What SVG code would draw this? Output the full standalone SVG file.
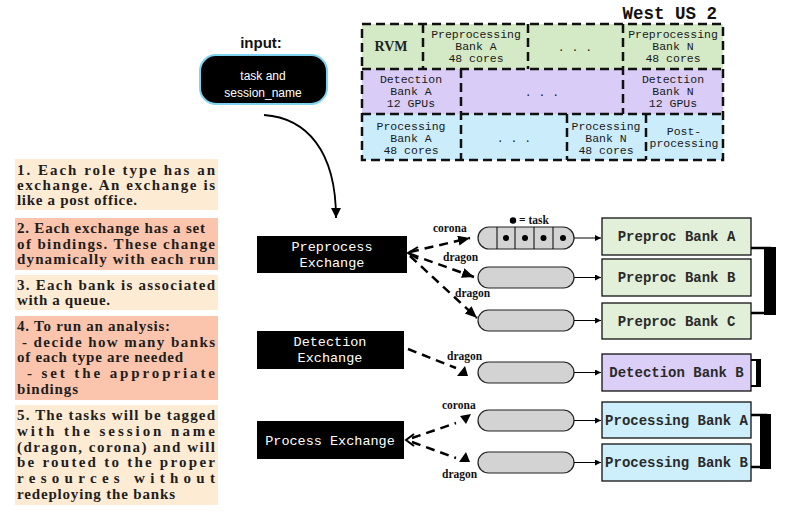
<svg xmlns="http://www.w3.org/2000/svg" width="800" height="515" viewBox="0 0 800 515">
<defs>
<style>
.mono{font-family:"Liberation Mono","Courier New",monospace}
.grid{font-family:"Liberation Mono","Courier New",monospace;font-size:11.5px;fill:#1a1a1a;text-anchor:middle}
.note{font-family:"Liberation Serif","Times New Roman",serif;font-weight:bold;font-size:15px;fill:#1e1e1e}
.lbl{font-family:"Liberation Serif","Times New Roman",serif;font-weight:bold;font-size:11.5px;fill:#111}
.exch{fill:#000}
.exT{font-family:"Liberation Mono","Courier New",monospace;font-size:13.5px;fill:#fff;text-anchor:middle}
.bankT{font-family:"Liberation Mono","Courier New",monospace;font-size:14px;font-weight:bold;fill:#2a2a2a;text-anchor:middle}
.q{fill:#d3d3d3;stroke:#222;stroke-width:1.2}
.dash{fill:none;stroke:#000;stroke-width:2.5;stroke-dasharray:9,6}
.gd{fill:none;stroke:#111;stroke-width:2.5;stroke-dasharray:9,5}
.thin{fill:none;stroke:#000;stroke-width:1}
.peach{fill:#fdebd4}
.salmon{fill:#fbc4ac}
</style>
<marker id="big" markerUnits="userSpaceOnUse" markerWidth="13" markerHeight="11" refX="12" refY="5" orient="auto"><path d="M0,0 L12,5 L0,10 z" fill="#000"/></marker>
<marker id="sm" markerUnits="userSpaceOnUse" markerWidth="7" markerHeight="6" refX="6" refY="3" orient="auto"><path d="M0,0 L6,3 L0,6 z" fill="#000"/></marker>
<marker id="cv" markerUnits="userSpaceOnUse" markerWidth="11" markerHeight="11" refX="10" refY="5" orient="auto"><path d="M0,0 L10,5 L0,10 z" fill="#000"/></marker>
</defs>

<g id="region-grid">
<rect x="362" y="24" width="361" height="45" fill="#d4e9c5"/>
<rect x="362" y="69" width="361" height="45" fill="#d9cdf7"/>
<rect x="362" y="114" width="361" height="46" fill="#cbedfb"/>
<rect class="gd" x="362" y="24" width="361" height="136"/>
<line class="gd" x1="362" y1="69" x2="723" y2="69"/>
<line class="gd" x1="362" y1="114" x2="723" y2="114"/>
<line class="gd" x1="423" y1="24" x2="423" y2="69"/>
<line class="gd" x1="528" y1="24" x2="528" y2="69"/>
<line class="gd" x1="623" y1="24" x2="623" y2="114"/>
<line class="gd" x1="461" y1="69" x2="461" y2="160"/>
<line class="gd" x1="567" y1="114" x2="567" y2="160"/>
<line class="gd" x1="646" y1="114" x2="646" y2="160"/>
<text class="mono" x="717" y="19" font-size="17.5" font-weight="bold" fill="#111" text-anchor="end">West US 2</text>
<text x="391" y="51" font-family="Liberation Serif,'Times New Roman',serif" font-size="14" font-weight="bold" fill="#222" text-anchor="middle">RVM</text>
<text class="grid" x="476" y="38">Preprocessing</text>
<text class="grid" x="476" y="50">Bank A</text>
<text class="grid" x="476" y="62">48 cores</text>
<text class="grid" x="575" y="51">. . .</text>
<text class="grid" x="673" y="38">Preprocessing</text>
<text class="grid" x="673" y="50">Bank N</text>
<text class="grid" x="673" y="62">48 cores</text>
<text class="grid" x="411" y="83">Detection</text>
<text class="grid" x="411" y="95">Bank A</text>
<text class="grid" x="411" y="107">12 GPUs</text>
<text class="grid" x="542" y="96">. . .</text>
<text class="grid" x="673" y="83">Detection</text>
<text class="grid" x="673" y="95">Bank N</text>
<text class="grid" x="673" y="107">12 GPUs</text>
<text class="grid" x="411" y="130">Processing</text>
<text class="grid" x="411" y="142">Bank A</text>
<text class="grid" x="411" y="154">48 cores</text>
<text class="grid" x="514" y="142">. . .</text>
<text class="grid" x="606" y="130">Processing</text>
<text class="grid" x="606" y="142">Bank N</text>
<text class="grid" x="606" y="154">48 cores</text>
<text class="grid" x="684" y="135">Post-</text>
<text class="grid" x="684" y="147">processing</text>
</g>

<g id="input">
<text x="261" y="48" font-family="Liberation Sans,Arial,sans-serif" font-weight="bold" font-size="15" fill="#111" text-anchor="middle">input:</text>
<rect x="200" y="55" width="127" height="49" rx="16" fill="#000" stroke="#7fd2f0" stroke-width="2"/>
<text x="263" y="80" font-family="Liberation Sans,Arial,sans-serif" font-size="12" fill="#fff" text-anchor="middle">task and</text>
<text x="263" y="97" font-family="Liberation Sans,Arial,sans-serif" font-size="12" fill="#fff" text-anchor="middle">session_name</text>
</g>

<g id="notes">
<rect class="peach" x="15" y="159" width="203" height="51"/>
<text class="note" x="17" y="175" textLength="198" lengthAdjust="spacing">1. Each role type has an</text>
<text class="note" x="17" y="190" textLength="198" lengthAdjust="spacing">exchange. An exchange is</text>
<text class="note" x="17" y="205" textLength="120" lengthAdjust="spacing">like a post office.</text>
<rect class="salmon" x="15" y="218" width="203" height="52"/>
<text class="note" x="17" y="233" textLength="188" lengthAdjust="spacing">2. Each exchange has a set</text>
<text class="note" x="17" y="249" textLength="198" lengthAdjust="spacing">of bindings. These change</text>
<text class="note" x="17" y="264" textLength="198" lengthAdjust="spacing">dynamically with each run</text>
<rect class="peach" x="15" y="275" width="203" height="35"/>
<text class="note" x="17" y="290" textLength="198" lengthAdjust="spacing">3. Each bank is associated</text>
<text class="note" x="17" y="305" textLength="93" lengthAdjust="spacing">with a queue.</text>
<rect class="salmon" x="15" y="316" width="203" height="84"/>
<text class="note" x="17" y="331" textLength="153" lengthAdjust="spacing">4. To run an analysis:</text>
<text class="note" x="22" y="347" textLength="193" lengthAdjust="spacing">- decide how many banks</text>
<text class="note" x="17" y="362" textLength="166" lengthAdjust="spacing">of each type are needed</text>
<text class="note" x="27" y="378" textLength="188" lengthAdjust="spacing">- set the appropriate</text>
<text class="note" x="17" y="394" textLength="61" lengthAdjust="spacing">bindings</text>
<rect class="peach" x="15" y="405" width="203" height="100"/>
<text class="note" x="17" y="420" textLength="198" lengthAdjust="spacing">5. The tasks will be tagged</text>
<text class="note" x="17" y="436" textLength="198" lengthAdjust="spacing">with the session name</text>
<text class="note" x="17" y="452" textLength="198" lengthAdjust="spacing">(dragon, corona) and will</text>
<text class="note" x="17" y="467" textLength="198" lengthAdjust="spacing">be routed to the proper</text>
<text class="note" x="17" y="483" textLength="198" lengthAdjust="spacing">resources without</text>
<text class="note" x="17" y="499" textLength="158" lengthAdjust="spacing">redeploying the banks</text>
</g>

<g id="preprocess-exchange">
<rect class="exch" x="257" y="236" width="150" height="37"/>
<text class="exT" x="332" y="251">Preprocess</text>
<text class="exT" x="332" y="267">Exchange</text>
</g>
<g id="detection-exchange">
<rect class="exch" x="257" y="331" width="147" height="38"/>
<text class="exT" x="330" y="346">Detection</text>
<text class="exT" x="330" y="362">Exchange</text>
</g>
<g id="process-exchange">
<rect class="exch" x="257" y="421" width="147" height="38"/>
<text class="exT" x="330" y="445">Process Exchange</text>
</g>

<g id="queues">
<rect class="q" x="478" y="227" width="96" height="22" rx="11"/>
<line class="thin" x1="497" y1="227" x2="497" y2="249"/>
<line class="thin" x1="515" y1="227" x2="515" y2="249"/>
<line class="thin" x1="534" y1="227" x2="534" y2="249"/>
<line class="thin" x1="553" y1="227" x2="553" y2="249"/>
<circle cx="506" cy="238" r="3"/>
<circle cx="525" cy="238" r="3"/>
<circle cx="543.5" cy="238" r="3"/>
<circle cx="563" cy="238" r="3"/>
<circle cx="513" cy="220.5" r="3.2"/>
<text class="lbl" x="519" y="224" font-size="10.5">= task</text>
<rect class="q" x="478" y="267" width="96" height="21" rx="10.5"/>
<rect class="q" x="478" y="310" width="96" height="21" rx="10.5"/>
<rect class="q" x="478" y="362" width="96" height="21" rx="10.5"/>
<rect class="q" x="478" y="410" width="96" height="21" rx="10.5"/>
<rect class="q" x="478" y="452" width="96" height="21" rx="10.5"/>
</g>

<g id="bank-preproc-a">
<rect x="602" y="218" width="149" height="37" fill="#e2efd9" stroke="#111" stroke-width="1.3"/>
<text class="bankT" x="676.5" y="241">Preproc Bank A</text>
</g>
<g id="bank-preproc-b">
<rect x="602" y="259" width="149" height="37" fill="#e2efd9" stroke="#111" stroke-width="1.3"/>
<text class="bankT" x="676.5" y="282">Preproc Bank B</text>
</g>
<g id="bank-preproc-c">
<rect x="602" y="303" width="149" height="36" fill="#e2efd9" stroke="#111" stroke-width="1.3"/>
<text class="bankT" x="676.5" y="326">Preproc Bank C</text>
</g>
<g id="bank-detection-b">
<rect x="602" y="354" width="149" height="37" fill="#dccff7" stroke="#111" stroke-width="1.3"/>
<text class="bankT" x="676.5" y="377">Detection Bank B</text>
</g>
<g id="bank-processing-a">
<rect x="602" y="402" width="149" height="36" fill="#cdeffc" stroke="#111" stroke-width="1.3"/>
<text class="bankT" x="676.5" y="425">Processing Bank A</text>
</g>
<g id="bank-processing-b">
<rect x="602" y="444" width="149" height="37" fill="#cdeffc" stroke="#111" stroke-width="1.3"/>
<text class="bankT" x="676.5" y="467">Processing Bank B</text>
</g>

<g id="brackets">
<path d="M751,248 H770 V313 H751" fill="none" stroke="#000" stroke-width="2.5"/>
<rect x="764" y="247" width="12" height="68" fill="#000"/>
<path d="M751,360 H759 V386 H751" fill="none" stroke="#000" stroke-width="2"/>
<rect x="756" y="359" width="5" height="28" fill="#000"/>
<path d="M751,415 H766 V467 H751" fill="none" stroke="#000" stroke-width="2.5"/>
<rect x="760" y="414" width="11" height="55" fill="#000"/>
</g>

<g id="connectors">
<path d="M264,115 C306,118 336,150 336,218" fill="none" stroke="#000" stroke-width="1.8" marker-end="url(#cv)"/>
<polyline points="418,247 408,253 418,259" fill="none" stroke="#000" stroke-width="2"/>
<line class="dash" x1="410" y1="252" x2="470" y2="238" marker-end="url(#big)"/>
<line class="dash" x1="410" y1="254" x2="474" y2="277" marker-end="url(#big)"/>
<line class="dash" x1="410" y1="256" x2="477" y2="318" marker-end="url(#big)"/>
<text class="lbl" x="433" y="232">corona</text>
<text class="lbl" x="443" y="261">dragon</text>
<text class="lbl" x="455" y="297">dragon</text>

<line class="dash" x1="408" y1="349" x2="456" y2="368"/>
<polygon points="457,376 468,376 465,366" fill="#000"/>
<text class="lbl" x="447" y="360">dragon</text>

<polyline points="414,434 406,440 414,446" fill="none" stroke="#000" stroke-width="2"/>
<line class="dash" x1="412" y1="438" x2="456" y2="423"/>
<line class="dash" x1="412" y1="442" x2="456" y2="458"/>
<polygon points="460,416 471,414 466,424" fill="#000"/>
<polygon points="459,462 470,462 466,452" fill="#000"/>
<text class="lbl" x="442" y="409">corona</text>
<text class="lbl" x="442" y="478">dragon</text>

<line class="thin" x1="574" y1="238" x2="601" y2="238" marker-end="url(#sm)"/>
<line class="thin" x1="574" y1="277.5" x2="601" y2="277.5" marker-end="url(#sm)"/>
<line class="thin" x1="574" y1="320.5" x2="601" y2="320.5" marker-end="url(#sm)"/>
<line class="thin" x1="574" y1="372.5" x2="601" y2="372.5" marker-end="url(#sm)"/>
<line class="thin" x1="574" y1="420.5" x2="601" y2="420.5" marker-end="url(#sm)"/>
<line class="thin" x1="574" y1="462.5" x2="601" y2="462.5" marker-end="url(#sm)"/>
</g>
</svg>
